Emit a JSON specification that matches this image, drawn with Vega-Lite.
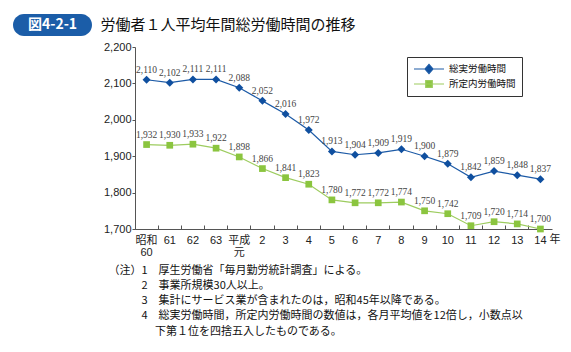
{
  "$schema": "https://vega.github.io/schema/vega-lite/v6.json",
  "padding": {"left": 13, "top": 14, "right": 5, "bottom": 5},
  "background": "white",
  "config": {
    "view": {"stroke": null},
    "concat": {"spacing": 8},
    "axisY": {"labelOverlap": false}
  },
  "datasets": {
    "d": [
      {"year": "昭和60", "総実労働時間": 2110, "所定内労働時間": 1932},
      {"year": "61", "総実労働時間": 2102, "所定内労働時間": 1930},
      {"year": "62", "総実労働時間": 2111, "所定内労働時間": 1933},
      {"year": "63", "総実労働時間": 2111, "所定内労働時間": 1922},
      {"year": "平成元", "総実労働時間": 2088, "所定内労働時間": 1898},
      {"year": "2", "総実労働時間": 2052, "所定内労働時間": 1866},
      {"year": "3", "総実労働時間": 2016, "所定内労働時間": 1841},
      {"year": "4", "総実労働時間": 1972, "所定内労働時間": 1823},
      {"year": "5", "総実労働時間": 1913, "所定内労働時間": 1780},
      {"year": "6", "総実労働時間": 1904, "所定内労働時間": 1772},
      {"year": "7", "総実労働時間": 1909, "所定内労働時間": 1772},
      {"year": "8", "総実労働時間": 1919, "所定内労働時間": 1774},
      {"year": "9", "総実労働時間": 1900, "所定内労働時間": 1750},
      {"year": "10", "総実労働時間": 1879, "所定内労働時間": 1742},
      {"year": "11", "総実労働時間": 1842, "所定内労働時間": 1709},
      {"year": "12", "総実労働時間": 1859, "所定内労働時間": 1720},
      {"year": "13", "総実労働時間": 1848, "所定内労働時間": 1714},
      {"year": "14", "総実労働時間": 1837, "所定内労働時間": 1700}
    ]
  },
  "resolve": {"legend": {"color": "independent"}},
  "hconcat": [
    {
      "width": 79,
      "height": 22,
      "view": {"fill": "#1b5da8", "cornerRadius": 11, "stroke": null},
      "data": {"values": [{"t": "図4-2-1"}]},
      "mark": {"type": "text", "color": "white", "font": "Noto Sans CJK JP", "fontWeight": "bold", "fontSize": 14, "align": "center", "baseline": "middle"},
      "encoding": {"text": {"field": "t", "type": "nominal"}}
    },
    {
      "resolve": {"legend": {"color": "independent"}},
      "spacing": 5,
      "vconcat": [
        {
          "width": 1,
          "height": 22,
          "data": {"values": [{"t": "労働者１人平均年間総労働時間の推移"}]},
          "mark": {"type": "text", "font": "Noto Sans CJK JP", "fontSize": 15, "color": "#111", "align": "left", "baseline": "middle", "dx": -35},
          "encoding": {"text": {"field": "t", "type": "nominal"}}
        },
        {
          "width": 417,
          "height": 182,
          "data": {"name": "d"},
          "transform": [{"fold": ["総実労働時間", "所定内労働時間"], "as": ["series", "value"]}],
          "layer": [
            {
              "mark": {"type": "line", "strokeWidth": 1.2},
              "encoding": {
                "x": {
                  "field": "year", "type": "nominal", "sort": null, "bandPosition": 0.5,
                  "scale": {"type": "band", "paddingInner": 0, "paddingOuter": 0},
                  "axis": {
                    "title": [
                      "（注）1　厚生労働省「毎月勤労統計調査」による。",
                      "\u200b　　　2　事業所規模30人以上。",
                      "\u200b　　　3　集計にサービス業が含まれたのは，昭和45年以降である。",
                      "\u200b　　　4　総実労働時間，所定内労働時間の数値は，各月平均値を12倍し，小数点以",
                      "\u200b　　　　 下第１位を四捨五入したものである。"
                    ],
                    "titleX": -27, "titleY": 35, "titleAlign": "left", "titleAnchor": "start",
                    "titleBaseline": "top", "titleAngle": 0,
                    "titleFont": "Noto Sans CJK JP", "titleFontSize": 11, "titleFontWeight": "normal",
                    "titleColor": "#111", "titleLineHeight": 15.3,
                    "labelAngle": 0, "bandPosition": 0, "labelOffset": 0,
                    "labelExpr": "datum.value == '昭和60' ? ['昭和', '60'] : datum.value == '平成元' ? ['平成', '元'] : datum.label",
                    "labelFont": "Liberation Sans, Noto Sans CJK JP, sans-serif", "labelFontSize": 11,
                    "labelColor": "#222", "labelLineHeight": 12, "labelPadding": 9,
                    "labelBaseline": "top", "labelAlign": "center",
                    "tickSize": -4, "tickColor": "#555", "domainColor": "#555", "grid": false
                  }
                },
                "y": {
                  "field": "value", "type": "quantitative",
                  "scale": {"domain": [1700, 2200], "nice": false, "zero": false},
                  "axis": {
                    "title": null, "values": [1700, 1800, 1900, 2000, 2100, 2200], "tickCount": 6, "format": ",.0f",
                    "grid": false, "tickSize": 3, "labelPadding": 1, "labelOverlap": false,
                    "labelFont": "Liberation Sans", "labelFontSize": 11, "labelColor": "#222",
                    "domainColor": "#555", "tickColor": "#555"
                  }
                },
                "color": {
                  "field": "series", "type": "nominal",
                  "scale": {"domain": ["総実労働時間", "所定内労働時間"], "range": ["#1c5aa6", "#9dcc5f"]},
                  "legend": {
                    "title": null, "orient": "none", "legendX": 272, "legendY": 10,
                    "strokeColor": "#333", "fillColor": "white", "padding": 6,
                    "symbolSize": 100, "symbolStrokeWidth": 1.2, "symbolOpacity": 1,
                    "labelFont": "Noto Sans CJK JP", "labelFontSize": 9.5, "labelColor": "#111",
                    "labelOffset": 24, "rowPadding": 2,
                    "encode": {
                      "symbols": {
                        "update": {
                          "shape": {"signal": "datum.value === '総実労働時間' ? 'M-1,0H5M2,-0.9L2.8,0L2,0.9L1.2,0Z' : 'M-1,0H5M1.34,-0.66H2.66V0.66H1.34Z'"},
                          "fill": {"signal": "datum.value === '総実労働時間' ? '#0f4f9f' : '#8bc53f'"},
                          "stroke": {"signal": "datum.value === '総実労働時間' ? '#1c5aa6' : '#9dcc5f'"},
                          "strokeWidth": {"value": 1.2},
                          "size": {"value": 100},
                          "opacity": {"value": 1}
                        }
                      }
                    }
                  }
                }
              }
            },
            {
              "transform": [{"filter": "datum.series == '総実労働時間'"}],
              "mark": {"type": "point", "shape": "diamond", "filled": true, "size": 64, "color": "#0f4f9f", "opacity": 1},
              "encoding": {
                "x": {"field": "year", "type": "nominal", "sort": null, "bandPosition": 0.5},
                "y": {"field": "value", "type": "quantitative"}
              }
            },
            {
              "transform": [{"filter": "datum.series == '所定内労働時間'"}],
              "mark": {"type": "point", "shape": "square", "filled": true, "size": 45, "color": "#8bc53f", "opacity": 1},
              "encoding": {
                "x": {"field": "year", "type": "nominal", "sort": null, "bandPosition": 0.5},
                "y": {"field": "value", "type": "quantitative"}
              }
            },
            {
              "mark": {"type": "text", "font": "Liberation Serif", "fontSize": 9.5, "color": "#444", "baseline": "bottom", "dy": -5},
              "encoding": {
                "x": {"field": "year", "type": "nominal", "sort": null, "bandPosition": 0.5},
                "y": {"field": "value", "type": "quantitative"},
                "text": {"field": "value", "type": "quantitative", "format": ","}
              }
            },
            {
              "data": {"values": [{"year": "14", "value": 1700, "t": "年"}]},
              "mark": {"type": "text", "font": "Noto Sans CJK JP", "fontSize": 11, "color": "#222", "align": "left", "baseline": "top", "dx": 9, "dy": 5},
              "encoding": {
                "x": {"field": "year", "type": "nominal", "sort": null, "bandPosition": 0.5},
                "y": {"field": "value", "type": "quantitative"},
                "text": {"field": "t", "type": "nominal"}
              }
            }
          ]
        }
      ]
    }
  ]
}
